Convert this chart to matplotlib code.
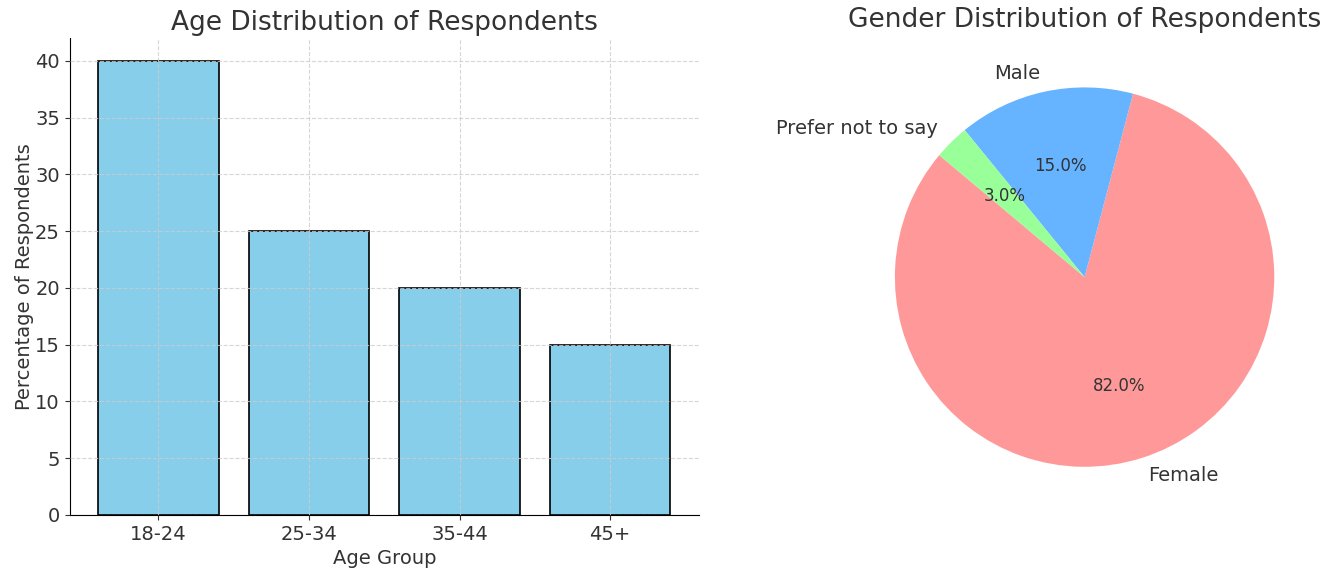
import matplotlib.pyplot as plt

plt.rcParams['text.color'] = '#333333'
plt.rcParams['axes.labelcolor'] = '#333333'
plt.rcParams['xtick.color'] = '#333333'
plt.rcParams['ytick.color'] = '#333333'

age_groups = ['18-24', '25-34', '35-44', '45+']
age_pct = [40, 25, 20, 15]

genders = ['Female', 'Male', 'Prefer not to say']
gender_pct = [82, 15, 3]
pie_colors = ['#ff9999', '#66b3ff', '#99ff99']

fig = plt.figure(figsize=(13.39, 5.69), dpi=100)
ax1 = fig.add_axes([0.052, 0.095, 0.47, 0.838])
ax2 = fig.add_axes([0.64, 0.123, 0.34, 0.78])

ax1.bar(age_groups, age_pct, color='skyblue', edgecolor='black', linewidth=1.2, width=0.8)
ax1.set_axisbelow(False)
ax1.grid(True, linestyle='--', color='#cccccc', linewidth=0.8, alpha=0.8)
ax1.spines['top'].set_visible(False)
ax1.spines['right'].set_visible(False)
ax1.set_title('Age Distribution of Respondents', fontsize=19)
ax1.set_xlabel('Age Group', fontsize=14)
ax1.set_ylabel('Percentage of Respondents', fontsize=14, labelpad=1)
ax1.tick_params(labelsize=14)
ax1.set_ylim(0, 42)

ax2.pie(gender_pct, labels=genders, colors=pie_colors, autopct='%1.1f%%',
        startangle=140, textprops={'fontsize': 12})
for t in ax2.texts:
    if '%' not in t.get_text():
        t.set_fontsize(14)
ax2.set_title('Gender Distribution of Respondents', fontsize=19, y=1.045)
ax2.set_aspect('equal', adjustable='datalim')
ax2.set_xlim(-1.2, 1.2)
ax2.set_ylim(-1.2, 1.2)

plt.savefig('out.png', dpi=100)
